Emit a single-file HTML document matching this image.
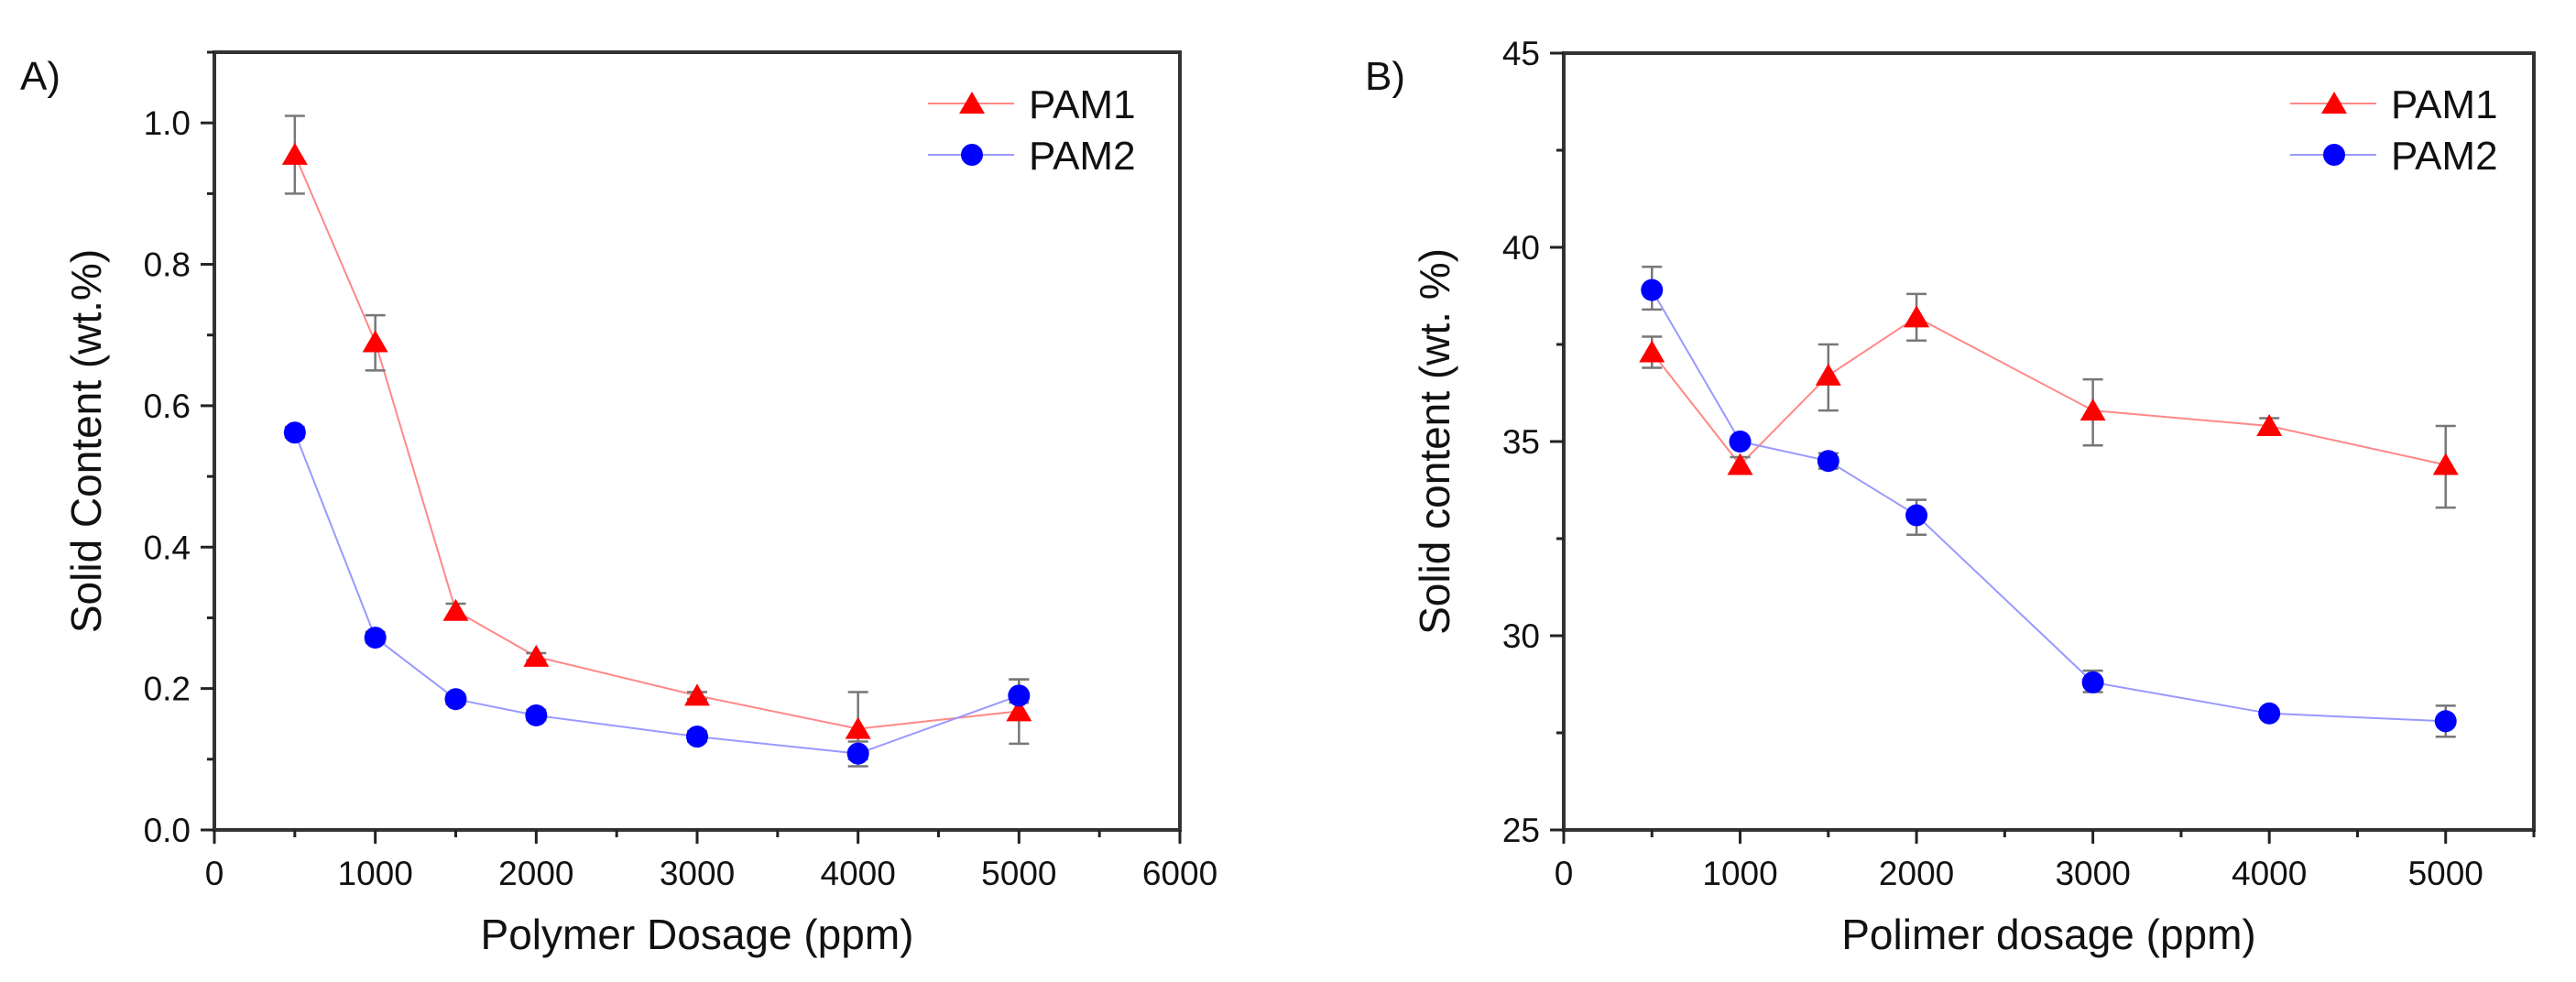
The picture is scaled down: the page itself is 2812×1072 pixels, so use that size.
<!DOCTYPE html>
<html><head><meta charset="utf-8"><style>
html,body{margin:0;padding:0;background:#fff;}
svg{display:block;font-family:"Liberation Sans",sans-serif;}
</style></head><body>
<svg id="fig" width="2812" height="1072" viewBox="0 0 2812 1072" xmlns="http://www.w3.org/2000/svg">
<text x="22" y="98" font-size="44" fill="#111">A)</text>
<text x="1490" y="98" font-size="44" fill="#111">B)</text>
</svg>
<script>
const dosage = [500, 1000, 1500, 2000, 3000, 4000, 5000];
const aPam1 = [0.955, 0.69, 0.31, 0.245, 0.19, 0.143, 0.168];
const aPam1Lo = [0.90, 0.65, 0.30, 0.24, 0.185, 0.10, 0.122];
const aPam1Hi = [1.01, 0.728, 0.32, 0.25, 0.195, 0.195, 0.213];
const aPam2 = [0.562, 0.272, 0.185, 0.162, 0.132, 0.108, 0.19];
const aPam2Lo = [0.555, 0.265, 0.178, 0.155, 0.125, 0.09, 0.18];
const aPam2Hi = [0.57, 0.28, 0.192, 0.17, 0.14, 0.125, 0.213];
const aXTicks = [0, 1000, 2000, 3000, 4000, 5000, 6000];
const aYTicks = [0.0, 0.2, 0.4, 0.6, 0.8, 1.0];
const bPam1 = [37.3, 34.4, 36.7, 38.2, 35.8, 35.4, 34.4];
const bPam1Lo = [36.9, 34.2, 35.8, 37.6, 34.9, 35.25, 33.3];
const bPam1Hi = [37.7, 34.6, 37.5, 38.8, 36.6, 35.6, 35.4];
const bPam2 = [38.9, 35.0, 34.5, 33.1, 28.8, 28.0, 27.8];
const bPam2Lo = [38.4, 34.9, 34.3, 32.6, 28.55, 27.9, 27.4];
const bPam2Hi = [39.5, 35.1, 34.7, 33.5, 29.1, 28.1, 28.2];
const bXTicks = [0, 1000, 2000, 3000, 4000, 5000];
const bYTicks = [25, 30, 35, 40, 45];

const NS = "http://www.w3.org/2000/svg";
const svg = document.getElementById('fig');
function mk(tag, attrs, parent) {
  const e = document.createElementNS(NS, tag);
  for (const k in attrs) e.setAttribute(k, attrs[k]);
  (parent || svg).appendChild(e);
  return e;
}
function panel(cfg) {
  const g = mk('g', {});
  
  
  const sx = v => cfg.L + (v - cfg.x0) / (cfg.x1 - cfg.x0) * (cfg.R - cfg.L);
  const sy = v => cfg.B - (v - cfg.y0) / (cfg.y1 - cfg.y0) * (cfg.B - cfg.T);
  const frame = mk('rect', {x: cfg.L, y: cfg.T, width: cfg.R - cfg.L, height: cfg.B - cfg.T, fill: 'none', stroke: '#333', 'stroke-width': 4}, g);
  
  
  // x ticks
  for (let v = cfg.x0; v <= cfg.x1 + 1e-9; v += cfg.xMinor) {
    const major = cfg.xTicks.some(t => Math.abs(t - v) < 1e-6);
    const t = mk('line', {x1: sx(v), x2: sx(v), y1: cfg.B, y2: cfg.B + (major ? 15 : 8), stroke: '#222', 'stroke-width': 3}, g);
    
    
  }
  cfg.xTicks.forEach(v => {
    const t = mk('text', {x: sx(v), y: cfg.B + 60, 'font-size': 37, 'text-anchor': 'middle', fill: '#111'}, g);
    t.textContent = String(v);
    
    
  });
  for (let v = cfg.y0; v <= cfg.y1 + 1e-9; v += cfg.yMinor) {
    const major = cfg.yTicks.some(t => Math.abs(t - v) < 1e-6);
    const t = mk('line', {x1: cfg.L, x2: cfg.L - (major ? 15 : 8), y1: sy(v), y2: sy(v), stroke: '#222', 'stroke-width': 3}, g);
    
    
  }
  cfg.yTicks.forEach(v => {
    const t = mk('text', {x: cfg.L - 26, y: sy(v) + 13, 'font-size': 37, 'text-anchor': 'end', fill: '#111'}, g);
    t.textContent = cfg.yFmt(v);
    
    
  });
  const xt = mk('text', {x: (cfg.L + cfg.R) / 2, y: 1036, 'font-size': 46, 'text-anchor': 'middle', fill: '#111'}, g);
  xt.textContent = cfg.xTitle;
  
  
  const yt = mk('text', {x: 0, y: 0, 'font-size': 46, 'text-anchor': 'middle', fill: '#111', transform: `translate(${cfg.yTitleX},${(cfg.T + cfg.B) / 2}) rotate(-90)`}, g);
  yt.textContent = cfg.yTitle;
  
  

  cfg.series.forEach(s => {
    const sg = mk('g', {}, g);
    
    
    const pts = dosage.map((d, i) => sx(d) + ',' + sy(s.vals[i])).join(' ');
    const pl = mk('polyline', {points: pts, fill: 'none', stroke: s.line, 'stroke-width': 2}, sg);
    
    
    dosage.forEach((d, i) => {
      const x = sx(d), ylo = sy(s.lo[i]), yhi = sy(s.hi[i]);
      const eb = mk('path', {d: `M${x},${ylo}V${yhi}M${x-11},${ylo}H${x+11}M${x-11},${yhi}H${x+11}`, stroke: '#777', 'stroke-width': 2.5, fill: 'none'}, sg);
      
      
    });
    dosage.forEach((d, i) => {
      const x = sx(d), y = sy(s.vals[i]);
      let m;
      if (s.shape === 'tri') m = mk('path', {d: `M${x},${y-13}L${x+14},${y+11}L${x-14},${y+11}Z`, fill: '#f00'}, sg);
      else m = mk('circle', {cx: x, cy: y, r: 12, fill: '#00f'}, sg);
      
      
    });
  });
  // legend
  const lg = mk('g', {}, g);
  
  
  cfg.series.forEach((s, k) => {
    const y = cfg.legY + k * 56, cx = cfg.legX;
    const e = mk('g', {}, lg);
    
    
    mk('line', {x1: cx - 48, x2: cx + 46, y1: y, y2: y, stroke: s.line, 'stroke-width': 2}, e);
    if (s.shape === 'tri') mk('path', {d: `M${cx},${y-13}L${cx+14},${y+11}L${cx-14},${y+11}Z`, fill: '#f00'}, e);
    else mk('circle', {cx: cx, cy: y, r: 12, fill: '#00f'}, e);
    const t = mk('text', {x: cx + 62, y: y + 16, 'font-size': 44, fill: '#111'}, e);
    t.textContent = s.label;
  });
}
panel({name: 'chart-a', L: 234, R: 1288, T: 57, B: 906, x0: 0, x1: 6000, y0: 0, y1: 1.1,
  xTicks: aXTicks, yTicks: aYTicks, xMinor: 500, yMinor: 0.1, yFmt: v => v.toFixed(1),
  xTitle: 'Polymer Dosage (ppm)', yTitle: 'Solid Content (wt.%)', yTitleX: 110,
  legX: 1061, legY: 113,
  series: [
    {label: 'PAM1', vals: aPam1, lo: aPam1Lo, hi: aPam1Hi, shape: 'tri', line: '#ff8888'},
    {label: 'PAM2', vals: aPam2, lo: aPam2Lo, hi: aPam2Hi, shape: 'circ', line: '#9999ff'}]});
panel({name: 'chart-b', L: 1707, R: 2766, T: 58, B: 906, x0: 0, x1: 5500, y0: 25, y1: 45,
  xTicks: bXTicks, yTicks: bYTicks, xMinor: 500, yMinor: 2.5, yFmt: v => String(v),
  xTitle: 'Polimer dosage (ppm)', yTitle: 'Solid content (wt. %)', yTitleX: 1582,
  legX: 2548, legY: 113,
  series: [
    {label: 'PAM1', vals: bPam1, lo: bPam1Lo, hi: bPam1Hi, shape: 'tri', line: '#ff8888'},
    {label: 'PAM2', vals: bPam2, lo: bPam2Lo, hi: bPam2Hi, shape: 'circ', line: '#9999ff'}]});
</script>
</body></html>
